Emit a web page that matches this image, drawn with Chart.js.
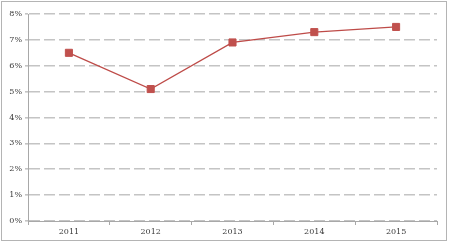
<!DOCTYPE html>
<html><head><meta charset="utf-8">
<script src="https://cdn.jsdelivr.net/npm/chart.js@4/dist/chart.umd.min.js"></script>
<style>html,body{margin:0;padding:0;background:#fff}#w{width:449px;height:243px;position:relative}</style>
</head><body><div id="w"><canvas id="c" width="449" height="243"></canvas></div>
<script>
const years = ['2011','2012','2013','2014','2015'];
const values = [6.5, 5.1, 6.9, 7.3, 7.5];
const yMin = 0, yMax = 8, yStep = 1;

const frame = {
  id: 'frame',
  beforeDraw(chart) {
    const ctx = chart.ctx;
    ctx.save();
    ctx.fillStyle = '#fff';
    ctx.fillRect(0, 0, chart.width, chart.height);
    ctx.strokeStyle = '#b4b4b4';
    ctx.lineWidth = 1;
    ctx.strokeRect(1.5, 1.5, 445, 239);
    ctx.restore();
  }
};

new Chart(document.getElementById('c'), {
  type: 'line',
  data: {
    labels: years,
    datasets: [{
      data: values,
      borderColor: '#be4b48',
      borderWidth: 1.3,
      backgroundColor: '#c0504d',
      pointStyle: 'rect',
      pointRadius: 5,
      pointBorderColor: '#c0504d',
      pointBorderWidth: 1,
      tension: 0,
      fill: false
    }]
  },
  options: {
    responsive: false,
    animation: false,
    devicePixelRatio: 1,
    layout: { padding: { left: 0, right: 12, top: 14, bottom: 0 } },
    plugins: { legend: { display: false }, tooltip: { enabled: false } },
    scales: {
      x: {
        offset: true,
        grid: { offset: true, drawOnChartArea: false, drawTicks: true, tickLength: 4, color: '#a8a8a8' },
        border: { color: '#a8a8a8', width: 1 },
        ticks: { font: { family: 'DejaVu Serif', size: 8 }, color: '#3a3a3a', padding: 2, maxRotation: 0 },
        afterFit(s) { s.height = 22; }
      },
      y: {
        min: yMin, max: yMax,
        grid: { color: '#c4c4c4', lineWidth: 1.6, tickLength: 3, drawTicks: true },
        border: { color: '#a8a8a8', width: 1, dash: [11, 4] },
        ticks: { stepSize: yStep, font: { family: 'DejaVu Serif', size: 8 }, color: '#3a3a3a', padding: 3,
          callback: v => v + '%' },
        afterFit(s) { s.width = 28; }
      }
    }
  },
  plugins: [frame]
});
</script>
</body></html>
